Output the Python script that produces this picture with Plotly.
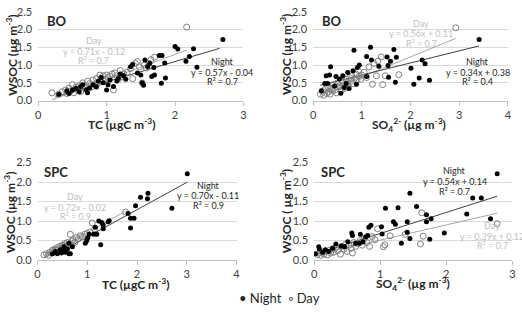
import plotly.graph_objects as go

W, H = 522, 312

# ---------------- data ----------------
# Panel 1: BO, WSOC vs TC
bo_tc_night_x = [0.30,0.42,0.45,0.50,0.55,0.60,0.62,0.65,0.70,0.72,0.75,0.80,0.85,0.88,0.92,0.95,1.00,1.02,1.05,1.10,1.15,1.17,1.20,1.25,1.28,1.35,1.38,1.45,1.50,1.52,1.54,1.56,1.60,1.63,1.66,1.69,1.70,1.77,1.80,1.81,1.85,1.86,2.00,2.04,2.16,2.21,2.27,2.32,2.70]
bo_tc_night_y = [0.18,0.28,0.20,0.30,0.35,0.25,0.40,0.45,0.30,0.22,0.35,0.45,0.38,0.55,0.65,0.50,0.30,0.45,0.58,0.40,0.55,0.62,0.75,0.70,0.60,0.95,1.02,0.78,0.72,0.50,0.43,1.14,0.96,1.05,0.68,0.93,0.72,1.27,0.49,1.27,1.06,0.64,1.52,1.45,1.11,1.24,1.46,0.94,1.72]
bo_tc_day_x = [0.20,0.30,0.35,0.40,0.42,0.45,0.48,0.50,0.52,0.55,0.58,0.60,0.62,0.65,0.68,0.70,0.72,0.75,0.78,0.80,0.82,0.85,0.88,0.90,0.92,0.95,0.98,1.00,1.02,1.05,1.08,1.10,1.12,1.15,1.18,1.20,1.22,1.25,1.30,1.35,1.38,1.42,1.45,1.48,1.52,1.55,1.58,1.62,1.65,1.70,2.17]
bo_tc_day_y = [0.22,0.18,0.25,0.30,0.20,0.35,0.28,0.45,0.22,0.38,0.30,0.42,0.25,0.50,0.35,0.40,0.55,0.48,0.38,0.58,0.45,0.62,0.50,0.72,0.55,0.70,0.60,0.72,0.65,0.68,0.75,0.30,0.78,0.70,0.62,0.85,0.68,0.75,0.80,0.90,0.62,1.05,1.10,0.95,0.50,1.00,0.92,1.05,1.15,1.22,2.07]

# Panel 2: BO, WSOC vs SO4
bo_so4_night_x = [0.17,0.24,0.27,0.30,0.34,0.36,0.44,0.47,0.54,0.57,0.61,0.64,0.68,0.71,0.74,0.82,0.84,0.89,0.91,0.95,1.10,1.10,1.18,1.20,1.35,1.52,1.54,1.55,1.59,1.66,1.69,1.71,2.01,2.07,2.18,2.24,2.30,2.39,3.41]
bo_so4_night_y = [0.28,0.48,0.70,0.48,0.72,0.95,0.41,0.68,0.61,0.21,0.70,0.37,0.48,0.79,0.34,0.84,1.42,0.46,0.93,1.00,1.24,0.68,1.50,1.14,0.97,1.23,0.99,0.66,1.11,1.44,0.52,1.22,0.91,0.46,0.64,1.14,1.04,0.57,1.72]
bo_so4_day_x = [0.15,0.20,0.22,0.25,0.28,0.30,0.32,0.35,0.38,0.40,0.42,0.45,0.48,0.50,0.52,0.55,0.58,0.60,0.63,0.65,0.68,0.70,0.72,0.75,0.78,0.80,0.83,0.85,0.88,0.90,0.93,0.95,0.98,1.00,1.05,1.10,1.15,1.22,1.25,1.30,1.33,1.40,1.43,1.48,1.76,2.93]
bo_so4_day_y = [0.18,0.25,0.15,0.32,0.20,0.40,0.25,0.18,0.35,0.28,0.45,0.30,0.22,0.50,0.38,0.42,0.30,0.55,0.45,0.35,0.60,0.50,0.40,0.65,0.55,0.70,0.48,0.62,0.75,0.58,0.85,0.68,0.60,0.72,0.80,0.65,0.95,0.46,1.05,0.70,1.11,1.23,0.45,0.70,0.73,2.05]

# Panel 3: SPC, WSOC vs TC
spc_tc_night_x = [0.30,0.36,0.40,0.46,0.48,0.53,0.53,0.56,0.60,0.63,0.63,0.66,0.70,0.96,0.99,1.01,1.04,1.13,1.16,1.19,1.23,1.27,1.29,1.32,1.32,1.42,1.44,1.82,1.87,1.87,1.94,1.97,2.07,2.21,2.22,2.70,3.01]
spc_tc_night_y = [0.16,0.22,0.16,0.26,0.18,0.34,0.25,0.20,0.28,0.16,0.43,0.16,0.34,0.43,0.50,0.57,0.66,0.66,0.84,0.66,1.00,0.39,0.96,0.90,0.80,0.98,1.01,1.19,0.82,1.07,1.07,1.39,1.61,1.57,1.71,1.33,2.21]
spc_tc_day_x = [0.13,0.18,0.22,0.25,0.28,0.30,0.33,0.35,0.38,0.40,0.42,0.45,0.48,0.50,0.52,0.55,0.58,0.60,0.63,0.66,0.68,0.72,0.75,0.78,0.82,0.86,0.90,0.95,1.00,1.05,1.10,1.15,1.77]
spc_tc_day_y = [0.13,0.16,0.12,0.20,0.18,0.25,0.22,0.28,0.25,0.32,0.26,0.35,0.30,0.38,0.34,0.42,0.36,0.45,0.40,0.66,0.48,0.52,0.45,0.58,0.55,0.62,0.60,0.66,0.68,0.72,0.95,0.80,1.23]

# Panel 4: SPC, WSOC vs SO4
spc_so4_night_x = [0.02,0.07,0.08,0.13,0.17,0.22,0.28,0.33,0.41,0.46,0.51,0.57,0.58,0.63,0.69,0.70,0.74,0.78,0.81,0.83,0.86,1.02,1.03,1.08,1.20,1.23,1.27,1.32,1.41,1.41,1.45,1.45,1.55,1.70,1.70,1.75,1.77,1.97,2.31,2.40,2.53,2.67,2.77]
spc_so4_night_y = [0.16,0.34,0.28,0.20,0.26,0.22,0.30,0.41,0.36,0.34,0.47,0.69,0.63,0.43,0.43,0.66,0.47,0.59,0.63,0.84,0.89,0.85,0.67,1.33,0.98,0.92,1.34,0.43,0.98,0.71,1.71,0.55,1.37,1.16,0.98,0.53,1.06,0.69,1.18,1.59,1.59,1.06,2.21]
spc_so4_day_x = [0.05,0.08,0.10,0.13,0.15,0.18,0.20,0.23,0.25,0.28,0.30,0.33,0.36,0.40,0.42,0.45,0.48,0.50,0.53,0.56,0.58,0.60,0.63,0.66,0.70,0.73,0.76,0.80,0.84,0.88,0.92,0.96,1.05,1.07,1.15,1.38,1.61,1.63,1.65,2.77]
spc_so4_day_y = [0.14,0.18,0.12,0.20,0.15,0.22,0.13,0.25,0.18,0.28,0.20,0.32,0.24,0.15,0.35,0.28,0.40,0.22,0.38,0.30,0.18,0.45,0.35,0.42,0.50,0.38,0.55,0.45,0.35,0.60,0.52,0.80,0.34,0.39,0.62,0.66,0.41,1.21,0.61,0.93]

# regression fits (slope, intercept, x-start, x-end) per panel: night, day
fit_night = [(0.57, -0.04, 0.25, 2.65), (0.34, 0.38, 0.15, 3.41), (0.70, -0.11, 0.30, 3.01), (0.54, 0.14, 0.02, 2.77)]
fit_day = [(0.71, -0.12, 0.20, 2.17), (0.56, 0.11, 0.15, 2.93), (0.72, -0.02, 0.13, 1.77), (0.39, 0.12, 0.05, 2.77)]
r2_night = [0.7, 0.4, 0.9, 0.7]
r2_day = [0.7, 0.7, 0.9, 0.7]

panels = [
    dict(nx=bo_tc_night_x, ny=bo_tc_night_y, dx=bo_tc_day_x, dy=bo_tc_day_y, xmax=3),
    dict(nx=bo_so4_night_x, ny=bo_so4_night_y, dx=bo_so4_day_x, dy=bo_so4_day_y, xmax=4),
    dict(nx=spc_tc_night_x, ny=spc_tc_night_y, dx=spc_tc_day_x, dy=spc_tc_day_y, xmax=4),
    dict(nx=spc_so4_night_x, ny=spc_so4_night_y, dx=spc_so4_day_x, dy=spc_so4_day_y, xmax=3),
]

# pixel boxes (left, right, top, bottom)
boxes = [(35.7, 243.7, 5, 97.7), (314.3, 511.7, 5, 97.7), (35, 236.7, 162.3, 264), (315.3, 516.3, 162.3, 264)]

def px(x):
    return x / W

def py(y):
    return 1 - y / H

FONT = "Lato, 'Liberation Sans', sans-serif"
NIGHT_C = "#000000"
DAY_EDGE = "#7f7f7f"
NIGHT_LINE = "#404040"
DAY_LINE = "#a6a6a6"
DAY_TXT = "#bfbfbf"
NIGHT_TXT = "#262626"

fig = go.Figure()
layout = {}
for i, (p, b) in enumerate(zip(panels, boxes)):
    n = "" if i == 0 else str(i + 1)
    xa, ya = "x" + n, "y" + n
    s, c, x0, x1 = fit_day[i]
    fig.add_trace(go.Scatter(x=[x0, x1], y=[s * x0 + c, s * x1 + c], mode="lines",
                             line=dict(color=DAY_LINE, width=1), xaxis=xa, yaxis=ya, showlegend=False))
    s, c, x0, x1 = fit_night[i]
    fig.add_trace(go.Scatter(x=[x0, x1], y=[s * x0 + c, s * x1 + c], mode="lines",
                             line=dict(color=NIGHT_LINE, width=1), xaxis=xa, yaxis=ya, showlegend=False))
    fig.add_trace(go.Scatter(x=p["dx"], y=p["dy"], mode="markers", name="Day",
                             marker=dict(symbol="circle-open", size=6, color=DAY_EDGE, line=dict(width=1)),
                             xaxis=xa, yaxis=ya, showlegend=False))
    fig.add_trace(go.Scatter(x=p["nx"], y=p["ny"], mode="markers", name="Night",
                             marker=dict(symbol="circle", size=5, color=NIGHT_C),
                             xaxis=xa, yaxis=ya, showlegend=False))
    l, r, t, bt = b
    layout["xaxis" + n] = dict(domain=[px(l), px(r)], range=[0, p["xmax"]], dtick=1, anchor=ya,
                               showgrid=False, zeroline=False, showline=True, linecolor="#bfbfbf",
                               ticks="outside", ticklen=4, tickcolor="#bfbfbf",
                               tickfont=dict(size=11, color="#404040", family=FONT))
    layout["yaxis" + n] = dict(domain=[py(bt), py(t)], range=[0, 2.5], dtick=0.5, tickformat=".1f",
                               anchor=xa, showgrid=True, gridcolor="#d9d9d9", gridwidth=1,
                               zeroline=False, showline=False, ticks="", ticklabelstandoff=5,
                               tickfont=dict(size=11, color="#404040", family=FONT))

ann = []
def A(text, x, y, size=10, color="#262626", bold=False, angle=0, xanchor="center"):
    ann.append(dict(text=("<b>%s</b>" % text) if bold else text, x=px(x), y=py(y), xref="paper", yref="paper",
                    showarrow=False, textangle=angle, xanchor=xanchor, yanchor="middle",
                    font=dict(size=size, color=color, family=FONT)))

# site labels
A("BO", 43, 15, size=13, bold=True, xanchor="left")
A("BO", 321, 15, size=13, bold=True, xanchor="left")
A("SPC", 40, 172, size=13, bold=True, xanchor="left")
A("SPC", 320, 172, size=13, bold=True, xanchor="left")

# axis titles
A("WSOC (µg m<sup>-3</sup>)", 9, 50, size=12, bold=True, angle=-90)
A("WSOC (µg m<sup>-3</sup>)", 287, 50, size=12, bold=True, angle=-90)
A("WSOC (µg m<sup>-3</sup>)", 7, 214, size=12, bold=True, angle=-90)
A("WSOC ( µg m<sup>-3</sup>)", 287, 213, size=12, bold=True, angle=-90)
A("TC (µgC m<sup>-3</sup>)", 120, 122, size=12, bold=True)
A("SO<sub>4</sub><sup>2-</sup> (µg m<sup>-3</sup>)", 412, 123, size=12, bold=True)
A("TC (µgC m<sup>-3</sup>)", 134, 289, size=12, bold=True)
A("SO<sub>4</sub><sup>2-</sup> (µg m<sup>-3</sup>)", 416, 289, size=12, bold=True)

# equations
def eq(label, s, c, r2, x, y, color):
    sign = "+" if c >= 0 else "-"
    A(label, x, y, size=9, color=color)
    A("y = %.2fx %s %.2f" % (s, sign, abs(c)), x, y + 11, size=9, color=color)
    A("R² = %.1f" % r2, x, y + 21, size=9, color=color)

eq("Day", fit_day[0][0], fit_day[0][1], r2_day[0], 92, 35, DAY_TXT)
eq("Night", fit_night[0][0], fit_night[0][1], r2_night[0], 222, 57, NIGHT_TXT)
eq("Day", fit_day[1][0], fit_day[1][1], r2_day[1], 424, 17, DAY_TXT)
eq("Night", fit_night[1][0], fit_night[1][1], r2_night[1], 481, 57, NIGHT_TXT)
eq("Day", fit_day[2][0], fit_day[2][1], r2_day[2], 73, 198, DAY_TXT)
eq("Night", fit_night[2][0], fit_night[2][1], r2_night[2], 208, 186, NIGHT_TXT)
eq("Night", fit_night[3][0], fit_night[3][1], r2_night[3], 458, 171, NIGHT_TXT)
eq("Day", fit_day[3][0], fit_day[3][1], r2_day[3], 496, 228, DAY_TXT)

# legend
A("• Night  ◦ Day", 280, 304, size=13, color="#262626")

fig.update_layout(width=W, height=H, margin=dict(l=0, r=0, t=0, b=0), paper_bgcolor="white",
                  plot_bgcolor="white", annotations=ann, **layout)
fig.write_html("out.html")
